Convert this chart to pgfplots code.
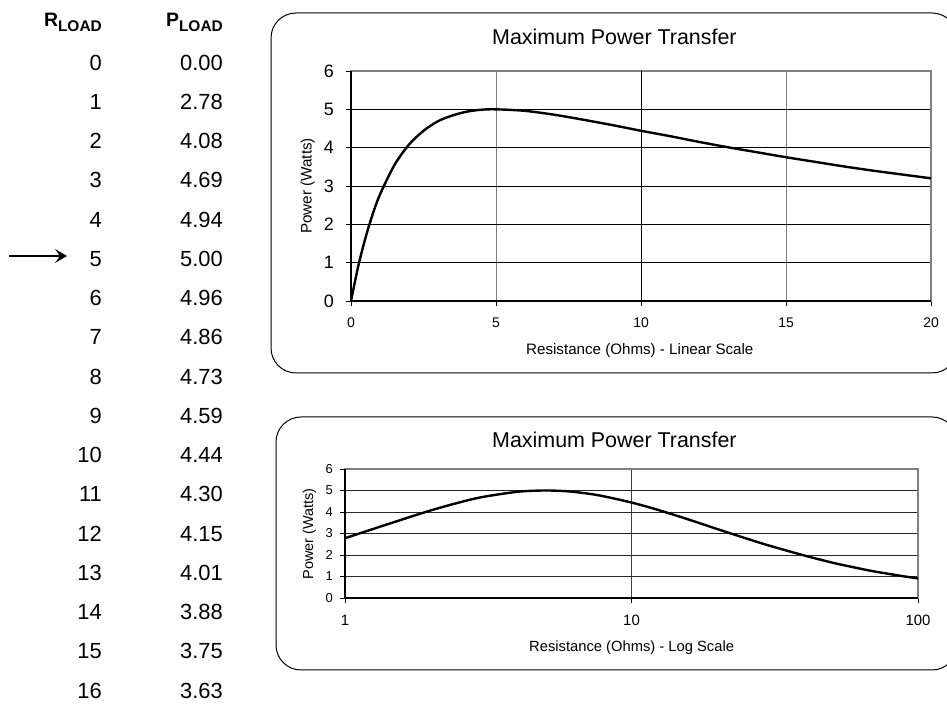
\documentclass[border=0pt]{standalone}
\usepackage{fontspec}
\setmainfont{Liberation Sans}
\usepackage{pgfplots}
\pgfplotsset{compat=1.18}
\usetikzlibrary{arrows.meta}
\newcommand{\fs}[1]{\fontsize{#1}{#1}\selectfont}

\begin{document}
\begin{tikzpicture}[x=1bp,y=1bp]
\useasboundingbox (0,0) rectangle (947,704);

% ---- table ----
\node[anchor=base east, inner sep=0pt] at (102,677) {\fs{19.5}\bfseries R\raisebox{-5bp}{\fs{15.5}\bfseries LOAD}};
\node[anchor=base east, inner sep=0pt] at (223,677) {\fs{19.5}\bfseries P\raisebox{-5bp}{\fs{15.5}\bfseries LOAD}};
\foreach \i/\p in {0/0.00,1/2.78,2/4.08,3/4.69,4/4.94,5/5.00,6/4.96,7/4.86,8/4.73,9/4.59,10/4.44,11/4.30,12/4.15,13/4.01,14/3.88,15/3.75,16/3.63}{
  \node[anchor=base east, inner sep=0pt, font=\fs{22}] at ({102},{633.8-39.24*\i}) {\i};
  \node[anchor=base east, inner sep=0pt, font=\fs{22}] at ({223},{633.8-39.24*\i}) {\p};
}
\draw[line width=2bp, -{Stealth[length=12bp,width=14bp,inset=5bp]}] (9,448) -- (67,448);

% ---- boxes ----
\draw[line width=1bp, rounded corners=25bp] (271,691) rectangle (957,331);
\draw[line width=1bp, rounded corners=25bp] (276,287) rectangle (957,34);

% ---- titles and labels ----
\node[anchor=base west, inner sep=0pt, font=\fs{21.5}] at (492,659) {Maximum Power Transfer};
\node[anchor=base west, inner sep=0pt, font=\fs{21.5}] at (492,256) {Maximum Power Transfer};
\node[anchor=base west, inner sep=0pt, font=\fs{15.2}] at (526,349) {Resistance (Ohms) - Linear Scale};
\node[anchor=base west, inner sep=0pt, font=\fs{14.8}] at (529,52) {Resistance (Ohms) - Log Scale};
\node[rotate=90, anchor=base, inner sep=0pt, font=\fs{15.3}] at (311.5,518) {Power (Watts)};
\node[rotate=90, anchor=base, inner sep=0pt, font=\fs{14.5}] at (313,170) {Power (Watts)};

% ---- linear chart ----
\begin{axis}[
  at={(351bp,403bp)}, anchor=south west, scale only axis,
  width=580bp, height=230bp,
  xmin=0, xmax=20, ymin=0, ymax=6,
  xtick={0,5,10,15,20}, ytick={0,1,2,3,4,5,6},
  xtick pos=bottom, ytick pos=left,
  tick align=outside, major tick length=5bp,
  tick style={black, line width=0.8bp},
  axis line style={draw=gray, line width=1.6bp},
  xmajorgrids, ymajorgrids,
  x grid style={gray, line width=0.7bp},
  y grid style={black, line width=0.8bp},
  /pgf/number format/assume math mode=true,
  xticklabel style={font=\fs{14}, inner sep=0pt, anchor=north},
  xticklabel shift=12bp,
  yticklabel style={font=\fs{18}, inner sep=0pt, anchor=east},
  yticklabel shift=12bp,
  clip=false,
]
\draw[black, line width=0.8bp] (axis cs:10,0) -- (axis cs:10,6);
\addplot[black, line width=2.4bp, smooth] coordinates {
(0,0) (0.25,0.91) (0.5,1.65) (0.75,2.27) (1,2.78) (1.5,3.55) (2,4.08) (2.5,4.44)
(3,4.69) (3.5,4.84) (4,4.94) (4.5,4.99) (5,5.00) (6,4.96) (7,4.86) (8,4.73)
(9,4.59) (10,4.44) (11,4.30) (12,4.15) (13,4.01) (14,3.88) (15,3.75) (16,3.63)
(17,3.51) (18,3.40) (19,3.30) (20,3.20)};
\draw[black, line width=1.6bp] (rel axis cs:0,1) -- (rel axis cs:0,0) -- (rel axis cs:1,0);
\end{axis}

% ---- log chart ----
\begin{axis}[
  at={(345bp,106bp)}, anchor=south west, scale only axis,
  width=573bp, height=129bp,
  xmode=log, xmin=1, xmax=100, ymin=0, ymax=6,
  xtick={1,10,100}, xticklabels={1,10,100}, xminorticks=false,
  ytick={0,1,2,3,4,5,6},
  xtick pos=bottom, ytick pos=left,
  tick align=outside, major tick length=5bp,
  tick style={black, line width=0.8bp},
  axis line style={draw=gray, line width=1.6bp},
  xmajorgrids, ymajorgrids,
  x grid style={black!75, line width=0.8bp},
  y grid style={black!85, line width=0.8bp},
  /pgf/number format/assume math mode=true,
  xticklabel style={font=\fs{15}, inner sep=0pt, anchor=north},
  xticklabel shift=12bp,
  yticklabel style={font=\fs{13}, inner sep=0pt, anchor=east},
  yticklabel shift=7bp,
  clip=false,
]
\addplot[black, line width=2.4bp, smooth] coordinates {
(1,2.78) (1.5,3.55) (2,4.08) (2.5,4.44) (3,4.69) (4,4.94) (5,5.00) (6,4.96)
(7,4.86) (8,4.73) (10,4.44) (12,4.15) (15,3.75) (20,3.20) (25,2.78) (30,2.45)
(40,1.98) (50,1.65) (60,1.42) (70,1.24) (80,1.11) (90,1.00) (100,0.91)};
\draw[black, line width=1.6bp] (rel axis cs:0,1) -- (rel axis cs:0,0) -- (rel axis cs:1,0);
\end{axis}
\end{tikzpicture}
\end{document}
